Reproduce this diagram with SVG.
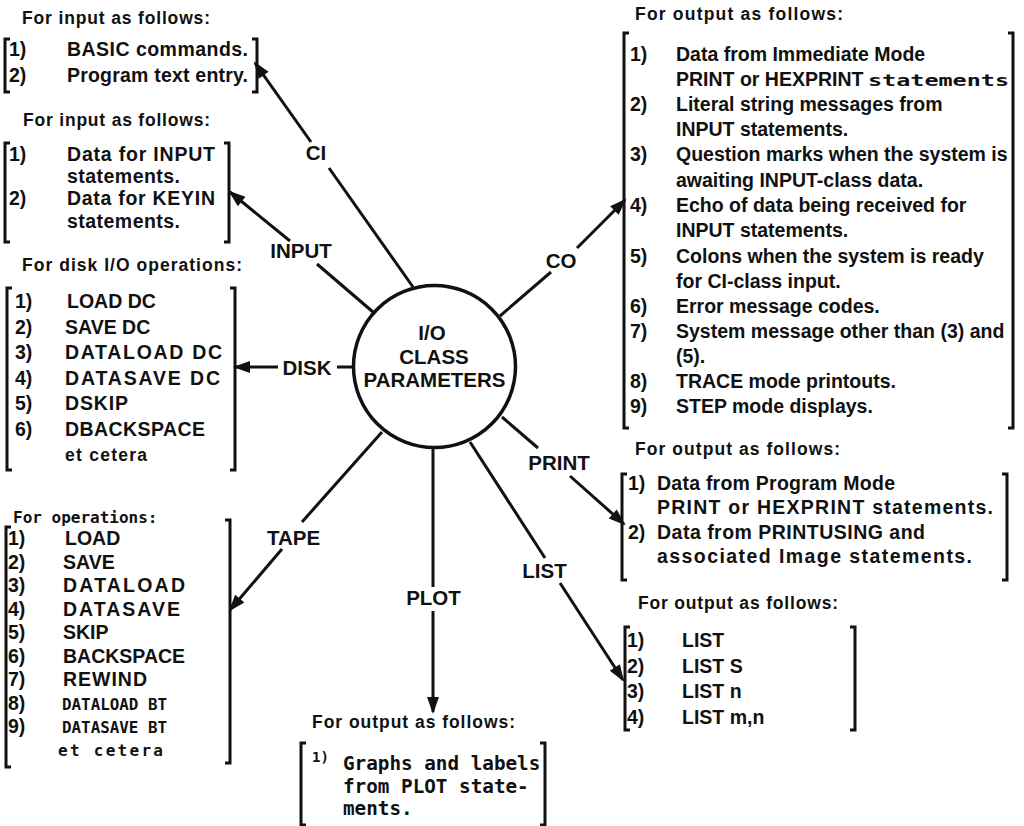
<svg xmlns="http://www.w3.org/2000/svg" width="1024" height="826" viewBox="0 0 1024 826">
<defs>
<style>
text { fill:#111; }
.h { font-family:"Liberation Sans",Arial,sans-serif; font-weight:bold; font-size:17.5px; }
.t { font-family:"Liberation Sans",Arial,sans-serif; font-weight:bold; font-size:19.5px; }
.s { font-family:"Liberation Sans",Arial,sans-serif; font-weight:bold; font-size:17.5px; }
.m { font-family:"DejaVu Sans Mono","Liberation Mono",monospace; font-weight:bold; font-size:16px; }
.mp { font-family:"DejaVu Sans Mono","Liberation Mono",monospace; font-weight:bold; font-size:19.3px; }
.mn { font-family:"DejaVu Sans Mono","Liberation Mono",monospace; font-weight:bold; font-size:14px; }
.lbl { font-family:"Liberation Sans",Arial,sans-serif; font-weight:bold; font-size:20.5px; text-anchor:middle; }
.br { fill:none; stroke:#111; stroke-width:3; stroke-linejoin:miter; }
.ln { fill:none; stroke:#111; stroke-width:3; }
.arr { marker-end:url(#ah); }
</style>
<marker id="ah" viewBox="-17 -7 20 14" refX="0" refY="0" markerWidth="20" markerHeight="14" markerUnits="userSpaceOnUse" orient="auto">
<path d="M2,0 L-15,-6 L-15,6 z" fill="#111"/>
</marker>
</defs>
<rect width="1024" height="826" fill="#fff"/>

<g id="center-node">
<circle cx="434.5" cy="366.5" r="81" fill="#fff" stroke="#111" stroke-width="3.5"/>
<text class="lbl" x="432" y="340">I/O</text>
<text class="lbl" x="434" y="364">CLASS</text>
<text class="lbl" x="434.5" y="387">PARAMETERS</text>
</g>

<g id="connectors">
<line class="ln" x1="413" y1="287" x2="329" y2="168"/>
<line class="ln arr" x1="311" y1="142" x2="255" y2="63"/>
<text class="lbl" x="316" y="160">CI</text>

<line class="ln" x1="373" y1="312" x2="317" y2="264"/>
<line class="ln arr" x1="290" y1="241" x2="230" y2="192"/>
<text class="lbl" x="301" y="258">INPUT</text>

<line class="ln" x1="353" y1="367" x2="337" y2="367"/>
<line class="ln arr" x1="278" y1="367" x2="235" y2="367"/>
<text class="lbl" x="307" y="375">DISK</text>

<line class="ln" x1="500" y1="316" x2="551" y2="272"/>
<line class="ln arr" x1="577" y1="248" x2="625" y2="200"/>
<text class="lbl" x="561" y="268">CO</text>

<line class="ln" x1="502" y1="417" x2="538" y2="448"/>
<line class="ln arr" x1="570" y1="476" x2="624" y2="524"/>
<text class="lbl" x="559" y="470">PRINT</text>

<line class="ln" x1="470" y1="442" x2="545" y2="558"/>
<line class="ln arr" x1="560" y1="583" x2="623" y2="680"/>
<text class="lbl" x="544.5" y="578">LIST</text>

<line class="ln" x1="433" y1="448" x2="433" y2="587"/>
<line class="ln arr" x1="433" y1="611" x2="433" y2="712"/>
<text class="lbl" x="433.5" y="605">PLOT</text>

<line class="ln" x1="382" y1="432" x2="302" y2="522"/>
<line class="ln arr" x1="282" y1="549" x2="230" y2="610"/>
<text class="lbl" x="293.5" y="545">TAPE</text>
</g>

<g id="ci-box">
<text class="h" x="22" y="24" textLength="188">For input as follows:</text>
<path class="br" d="M10,39 H5 V92 H10"/>
<path class="br" d="M252,39 H257 V92 H252"/>
<text class="t" x="9" y="56">1)</text>
<text class="t" x="67" y="56" textLength="181">BASIC commands.</text>
<text class="t" x="9" y="82">2)</text>
<text class="t" x="67" y="82" textLength="181">Program text entry.</text>
</g>

<g id="input-box">
<text class="h" x="23" y="126" textLength="187">For input as follows:</text>
<path class="br" d="M10,143 H5 V242 H10"/>
<path class="br" d="M224,143 H229 V242 H224"/>
<text class="t" x="9" y="161">1)</text>
<text class="t" x="67" y="161" textLength="148">Data for INPUT</text>
<text class="t" x="67" y="183" textLength="113">statements.</text>
<text class="t" x="9" y="205">2)</text>
<text class="t" x="67" y="205" textLength="148">Data for KEYIN</text>
<text class="t" x="67" y="228" textLength="113">statements.</text>
</g>

<g id="disk-box">
<text class="h" x="22" y="271" textLength="220">For disk I/O operations:</text>
<path class="br" d="M12,288 H7 V470 H12"/>
<path class="br" d="M230,288 H235 V470 H230"/>
<text class="t" x="15" y="308">1)</text>
<text class="t" x="67" y="308">LOAD DC</text>
<text class="t" x="15" y="333.5">2)</text>
<text class="t" x="65" y="333.5">SAVE DC</text>
<text class="t" x="15" y="359">3)</text>
<text class="t" x="65" y="359" textLength="157">DATALOAD DC</text>
<text class="t" x="15" y="384.5">4)</text>
<text class="t" x="65" y="384.5" textLength="155">DATASAVE DC</text>
<text class="t" x="15" y="410">5)</text>
<text class="t" x="65" y="410" textLength="63">DSKIP</text>
<text class="t" x="15" y="435.5">6)</text>
<text class="t" x="65" y="435.5" textLength="140">DBACKSPACE</text>
<text class="s" x="65" y="461" textLength="82">et cetera</text>
</g>

<g id="tape-box">
<text class="m" x="13" y="523">For operations:</text>
<path class="br" d="M11,527 H6 V767 H11"/>
<path class="br" d="M225,520 H230 V763 H225"/>
<text class="t" x="8" y="545">1)</text>
<text class="t" x="65" y="545">LOAD</text>
<text class="t" x="8" y="568.5">2)</text>
<text class="t" x="63" y="568.5">SAVE</text>
<text class="t" x="8" y="592">3)</text>
<text class="t" x="63" y="592" textLength="122">DATALOAD</text>
<text class="t" x="8" y="615.5">4)</text>
<text class="t" x="63" y="615.5" textLength="117">DATASAVE</text>
<text class="t" x="8" y="639">5)</text>
<text class="t" x="63" y="639">SKIP</text>
<text class="t" x="8" y="662.5">6)</text>
<text class="t" x="63" y="662.5">BACKSPACE</text>
<text class="t" x="8" y="686">7)</text>
<text class="t" x="63" y="686" textLength="84">REWIND</text>
<text class="t" x="8" y="709.5">8)</text>
<text class="m" x="62" y="709.5" font-size="18" textLength="105" lengthAdjust="spacingAndGlyphs">DATALOAD BT</text>
<text class="t" x="8" y="733">9)</text>
<text class="m" x="62" y="733" font-size="18" textLength="105" lengthAdjust="spacingAndGlyphs">DATASAVE BT</text>
<text class="m" x="58" y="756" font-size="17.5" textLength="105">et cetera</text>
</g>

<g id="co-box">
<text class="h" x="635" y="20" textLength="208">For output as follows:</text>
<path class="br" d="M629,33 H624 V428 H629"/>
<path class="br" d="M1008,33 H1013 V428 H1008"/>
<text class="t" x="630" y="61">1)</text>
<text class="t" x="676" y="61">Data from Immediate Mode</text>
<text class="t" x="676" y="86">PRINT or HEXPRINT</text>
<text class="m" x="868" y="86" font-size="18.5" textLength="141" lengthAdjust="spacingAndGlyphs">statements</text>
<text class="t" x="630" y="111">2)</text>
<text class="t" x="676" y="111">Literal string messages from</text>
<text class="t" x="676" y="136">INPUT statements.</text>
<text class="t" x="630" y="161">3)</text>
<text class="t" x="676" y="161">Question marks when the system is</text>
<text class="t" x="676" y="186.5">awaiting INPUT-class data.</text>
<text class="t" x="630" y="212">4)</text>
<text class="t" x="676" y="212">Echo of data being received for</text>
<text class="t" x="676" y="237">INPUT statements.</text>
<text class="t" x="630" y="262.5">5)</text>
<text class="t" x="676" y="262.5">Colons when the system is ready</text>
<text class="t" x="676" y="288">for CI-class input.</text>
<text class="t" x="630" y="313">6)</text>
<text class="t" x="676" y="313">Error message codes.</text>
<text class="t" x="630" y="338">7)</text>
<text class="t" x="676" y="338">System message other than (3) and</text>
<text class="t" x="676" y="363">(5).</text>
<text class="t" x="630" y="388">8)</text>
<text class="t" x="676" y="388">TRACE mode printouts.</text>
<text class="t" x="630" y="413">9)</text>
<text class="t" x="676" y="413">STEP mode displays.</text>
</g>

<g id="print-box">
<text class="h" x="635" y="455" textLength="205">For output as follows:</text>
<path class="br" d="M627,474 H622 V580 H627"/>
<path class="br" d="M1002,474 H1007 V580 H1002"/>
<text class="t" x="628" y="490">1)</text>
<text class="t" x="657" y="490" textLength="238">Data from Program Mode</text>
<text class="t" x="657" y="514" textLength="336">PRINT or HEXPRINT statements.</text>
<text class="t" x="628" y="539">2)</text>
<text class="t" x="657" y="539" textLength="268">Data from PRINTUSING and</text>
<text class="t" x="657" y="563" textLength="315">associated Image statements.</text>
</g>

<g id="list-box">
<text class="h" x="638" y="609" textLength="200">For output as follows:</text>
<path class="br" d="M630,627 H625 V730 H630"/>
<path class="br" d="M850,627 H855 V730 H850"/>
<text class="t" x="627" y="647">1)</text>
<text class="t" x="682" y="647">LIST</text>
<text class="t" x="627" y="672.5">2)</text>
<text class="t" x="682" y="672.5">LIST S</text>
<text class="t" x="627" y="698">3)</text>
<text class="t" x="682" y="698">LIST n</text>
<text class="t" x="627" y="723.5">4)</text>
<text class="t" x="682" y="723.5">LIST m,n</text>
</g>

<g id="plot-box">
<text class="h" x="312" y="728" textLength="203">For output as follows:</text>
<path class="br" d="M306,743 H301 V825 H306"/>
<path class="br" d="M540,743 H545 V825 H540"/>
<text class="mn" x="312" y="762">1)</text>
<text class="mp" x="343" y="770">Graphs and labels</text>
<text class="mp" x="343" y="793">from PLOT state-</text>
<text class="mp" x="343" y="815">ments.</text>
</g>
</svg>
